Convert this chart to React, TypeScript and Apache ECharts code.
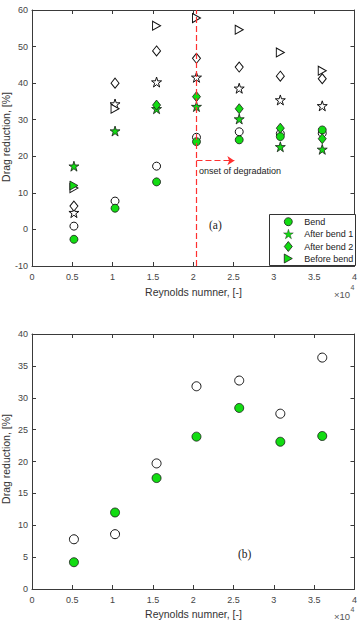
import React, { useEffect, useRef } from "react";
import * as echarts from "echarts";

// Reynolds number, in units of 10^4
const reynoldsE4 = [0.52, 1.03, 1.545, 2.04, 2.57, 3.08, 3.6];

// (a) drag reduction [%] – green (with legend)
const bendA = [-2.7, 5.8, 13.0, 24.0, 24.5, 25.4, 27.2];
const afterBend1A = [17.3, 26.9, 33.0, 33.6, 30.2, 22.6, 21.9];
const afterBend2A = [null, null, 34.0, 36.3, 33.0, 27.7, 24.8];
const beforeBendA = [12.0, null, null, null, null, null, null];

// (a) open (white) markers
const openBendA = [0.9, 7.75, 17.3, 25.2, 26.7, 26.2, 26.3];
const openAfterBend1A = [4.6, 34.3, 40.3, 41.6, 38.6, 35.4, 33.8];
const openAfterBend2A = [6.4, 40.0, 48.8, 46.8, 44.4, 41.9, 41.2];
const openBeforeBendA = [11.3, 33.0, 55.7, 57.8, 54.6, 48.4, 43.4];

// (b)
const bendB = [4.2, 12.0, 17.4, 23.9, 28.4, 23.1, 24.0];
const openB = [7.8, 8.6, 19.7, 31.8, 32.7, 27.5, 36.3];

// onset of degradation annotation
const onsetRe = 2.04;
const arrowEndRe = 2.51;
const arrowLevel = 18.8;

const legendNames = ["Bend", "After bend 1", "After bend 2", "Before bend"];

const STAR_D =
  "M10,0L12.245,6.91L19.511,6.91L13.633,11.18L15.878,18.09L10,13.82L4.122,18.09L6.367,11.18L0.489,6.91L7.755,6.91Z";
const STAR = "path://" + STAR_D;
const TRI_RIGHT = "path://M0,0L10,5L0,10Z";

const GREEN = "#12dc12";
const FONT = "Liberation Sans";

try {
  echarts.graphic.registerShape("star5", echarts.graphic.extendPath(STAR_D, {}) as any);
} catch (e) {
  /* already registered */
}

const pairs = (ys: (number | null)[]) =>
  reynoldsE4
    .map((x, i) => (ys[i] == null ? null : [x, ys[i] as number]))
    .filter((p) => p !== null) as number[][];

const xAxisDef = (gridIndex: number, position: string, showLabel: boolean) => ({
  type: "value",
  gridIndex,
  position,
  min: 0,
  max: 4,
  interval: 0.5,
  axisLine: { show: true, onZero: false, lineStyle: { color: "#3a3a3a", width: 1 } },
  axisTick: { show: true, inside: true, length: 4, lineStyle: { color: "#3a3a3a" } },
  axisLabel: { show: showLabel, margin: 6, fontSize: 9, color: "#444", fontFamily: FONT },
  splitLine: { show: false },
});

const yAxisDef = (
  gridIndex: number,
  position: string,
  showLabel: boolean,
  min: number,
  max: number,
  interval: number
) => ({
  type: "value",
  gridIndex,
  position,
  min,
  max,
  interval,
  axisLine: { show: true, onZero: false, lineStyle: { color: "#3a3a3a", width: 1 } },
  axisTick: { show: true, inside: true, length: 4, lineStyle: { color: "#3a3a3a" } },
  axisLabel: { show: showLabel, margin: 4, fontSize: 9, color: "#444", fontFamily: FONT },
  splitLine: { show: false },
});

const openStyle = { color: "#ffffff", borderColor: "#111", borderWidth: 1, opacity: 1 };
const greenStyle = { color: GREEN, borderColor: "#1a1a1a", borderWidth: 0.8, opacity: 1 };

const txt = (text: string, x: number, y: number, extra: any = {}) => ({
  type: "text",
  x,
  y,
  z: 12,
  style: {
    text,
    fontSize: 9,
    fontFamily: FONT,
    fill: "#222",
    textVerticalAlign: "middle",
    verticalAlign: "middle",
    ...extra,
  },
});

export default function App() {
  const ref = useRef<HTMLDivElement>(null);

  useEffect(() => {
    if (!ref.current) return;
    const chart = echarts.init(ref.current, undefined, { renderer: "svg" });

    // manual legend for panel (a)
    const lgX = 288.3;
    const lgTextX = 304.3;
    const rowY = [221.7, 234, 246.5, 258.5];
    const gStyle = { fill: GREEN, stroke: "#1a1a1a", lineWidth: 0.8 };
    const legendGraphics: any[] = [
      {
        type: "rect",
        z: 10,
        shape: { x: 269.5, y: 214.5, width: 86, height: 51 },
        style: { fill: "#ffffff", stroke: "#333", lineWidth: 1 },
      },
      { type: "circle", z: 12, shape: { cx: lgX, cy: rowY[0], r: 4 }, style: gStyle },
      {
        type: "star5",
        z: 12,
        x: lgX - 5,
        y: rowY[1] - 4.75,
        scaleX: 0.513,
        scaleY: 0.525,
        style: gStyle,
      },
      {
        type: "polygon",
        z: 12,
        shape: {
          points: [
            [lgX, rowY[2] - 5],
            [lgX + 4, rowY[2]],
            [lgX, rowY[2] + 5],
            [lgX - 4, rowY[2]],
          ],
        },
        style: gStyle,
      },
      {
        type: "polygon",
        z: 12,
        shape: {
          points: [
            [lgX - 4, rowY[3] - 4.5],
            [lgX + 4, rowY[3]],
            [lgX - 4, rowY[3] + 4.5],
          ],
        },
        style: gStyle,
      },
      ...legendNames.map((n, i) => txt(n, lgTextX, rowY[i])),
    ];

    const option: any = {
      animation: false,
      backgroundColor: "#ffffff",
      textStyle: { fontFamily: FONT },
      grid: [
        { left: 32, top: 10, width: 323, height: 256, containLabel: false },
        { left: 32, top: 334, width: 323, height: 255, containLabel: false },
      ],
      xAxis: [
        xAxisDef(0, "bottom", true),
        xAxisDef(0, "top", false),
        xAxisDef(1, "bottom", true),
        xAxisDef(1, "top", false),
      ],
      yAxis: [
        yAxisDef(0, "left", true, -10, 60, 10),
        yAxisDef(0, "right", false, -10, 60, 10),
        yAxisDef(1, "left", true, 0, 40, 5),
        yAxisDef(1, "right", false, 0, 40, 5),
      ],
      graphic: [
        ...legendGraphics,
        txt("Drag reduction, [%]", 6, 137, { fontSize: 10.5, fill: "#333", textAlign: "center", align: "center" }),
        txt("Drag reduction, [%]", 6, 459, { fontSize: 10.5, fill: "#333", textAlign: "center", align: "center" }),
        txt("Reynolds numner, [-]", 193.5, 292, { fontSize: 10.5, fill: "#333", textAlign: "center", align: "center" }),
        txt("Reynolds numner, [-]", 193.5, 613.5, { fontSize: 10.5, fill: "#333", textAlign: "center", align: "center" }),
        txt("×10", 334, 294, { fontSize: 9.5, fill: "#555" }),
        txt("4", 350.5, 287, { fontSize: 7, fill: "#555" }),
        txt("×10", 334, 616.5, { fontSize: 9.5, fill: "#555" }),
        txt("4", 350.5, 609.5, { fontSize: 7, fill: "#555" }),
        txt("onset of degradation", 199, 171, { fontSize: 9 }),
        txt("(a)", 209, 225, { fontSize: 11.5, fontFamily: "Liberation Serif" }),
        txt("(b)", 238, 554, { fontSize: 11.5, fontFamily: "Liberation Serif" }),
      ].map((g: any, i: number) =>
        g.style && g.style.text === "Drag reduction, [%]" ? { ...g, rotation: Math.PI / 2 } : g
      ),
      series: [
        // (a) open markers
        { name: "open Bend", type: "scatter", xAxisIndex: 0, yAxisIndex: 0, symbol: "circle", symbolSize: 8, itemStyle: openStyle, data: pairs(openBendA) },
        { name: "open After bend 1", type: "scatter", xAxisIndex: 0, yAxisIndex: 0, symbol: STAR, symbolSize: 10, itemStyle: openStyle, data: pairs(openAfterBend1A) },
        { name: "open After bend 2", type: "scatter", xAxisIndex: 0, yAxisIndex: 0, symbol: "diamond", symbolSize: [8, 10], itemStyle: openStyle, data: pairs(openAfterBend2A) },
        { name: "open Before bend", type: "scatter", xAxisIndex: 0, yAxisIndex: 0, symbol: TRI_RIGHT, symbolSize: [8, 9], itemStyle: openStyle, data: pairs(openBeforeBendA) },
        // (a) green markers
        {
          name: "Bend",
          type: "scatter",
          xAxisIndex: 0,
          yAxisIndex: 0,
          symbol: "circle",
          symbolSize: 8,
          itemStyle: greenStyle,
          data: pairs(bendA),
          markLine: {
            silent: true,
            animation: false,
            symbol: ["none", "none"],
            symbolSize: 7,
            label: { show: false },
            lineStyle: { color: "#ff3030", type: [6, 3], width: 1.2 },
            data: [
              { xAxis: onsetRe },
              [
                { coord: [onsetRe, arrowLevel], symbol: "none" },
                { coord: [arrowEndRe, arrowLevel], symbol: "arrow" },
              ],
            ],
          },
        },
        { name: "After bend 1", type: "scatter", xAxisIndex: 0, yAxisIndex: 0, symbol: STAR, symbolSize: 10, itemStyle: greenStyle, data: pairs(afterBend1A) },
        { name: "After bend 2", type: "scatter", xAxisIndex: 0, yAxisIndex: 0, symbol: "diamond", symbolSize: [8, 10], itemStyle: greenStyle, data: pairs(afterBend2A) },
        { name: "Before bend", type: "scatter", xAxisIndex: 0, yAxisIndex: 0, symbol: TRI_RIGHT, symbolSize: [8, 9], itemStyle: greenStyle, data: pairs(beforeBendA) },
        // (b)
        { name: "open Bend (b)", type: "scatter", xAxisIndex: 2, yAxisIndex: 2, symbol: "circle", symbolSize: 9, itemStyle: openStyle, data: pairs(openB) },
        { name: "Bend (b)", type: "scatter", xAxisIndex: 2, yAxisIndex: 2, symbol: "circle", symbolSize: 9, itemStyle: greenStyle, data: pairs(bendB) },
      ],
    };

    chart.setOption(option);
    return () => chart.dispose();
  }, []);

  return (
    <div
      ref={ref}
      style={{ position: "fixed", left: 0, top: 0, width: 360, height: 625, background: "#fff" }}
    />
  );
}
